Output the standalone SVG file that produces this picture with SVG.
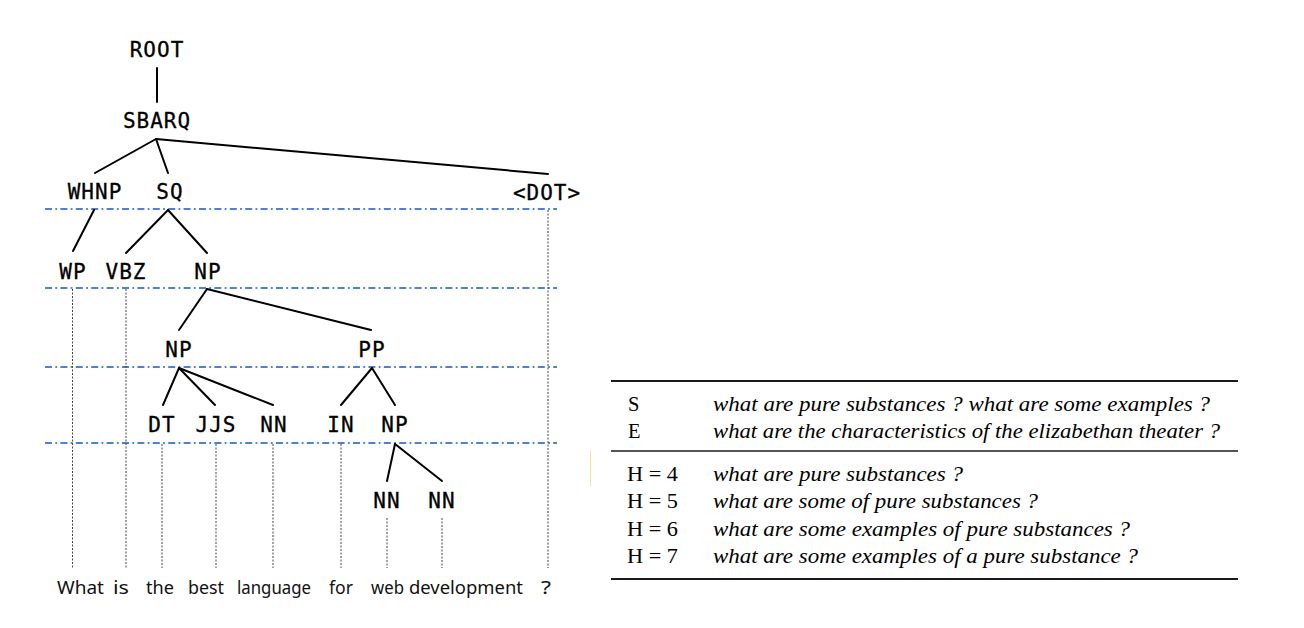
<svg xmlns="http://www.w3.org/2000/svg" width="1304" height="628" viewBox="0 0 1304 628">
<style>
.lbl{font-family:"DejaVu Sans Mono","Liberation Mono",monospace;font-size:21px;letter-spacing:1px;fill:#000;stroke:#000;stroke-width:0.3;text-anchor:middle}
.word{font-family:"Noto Sans","Open Sans","Liberation Sans",sans-serif;font-size:18.5px;font-weight:400;fill:#111}
.edge{stroke:#000;stroke-width:2;fill:none;stroke-linecap:round}
.lvl{stroke:#4f80d8;stroke-width:2.2;stroke-dasharray:7 3.3 1.8 3.3;fill:none}
.drop{stroke:#444;stroke-width:1;stroke-dasharray:2 1.5;fill:none}
.rule{stroke:#1a1a1a;fill:none}
.tk{font-family:"Liberation Serif","Times New Roman",serif;font-size:20.5px;fill:#000}
.it{font-family:"Liberation Serif","Times New Roman",serif;font-size:20.5px;font-style:italic;fill:#000}
</style>
<rect width="1304" height="628" fill="#fff"/>

<g id="levels">
<line class="lvl" x1="45" y1="209" x2="557" y2="209"/>
<line class="lvl" x1="45" y1="288" x2="557" y2="288"/>
<line class="lvl" x1="45" y1="367" x2="557" y2="367"/>
<line class="lvl" x1="45" y1="443" x2="557" y2="443"/>
</g>

<g id="connectors">
<line class="edge" x1="157" y1="68" x2="157" y2="102"/>
<line class="edge" x1="156" y1="139" x2="95" y2="173"/>
<line class="edge" x1="156" y1="139" x2="168" y2="173"/>
<line class="edge" x1="156" y1="139" x2="548" y2="174"/>
<line class="edge" x1="94" y1="210" x2="73" y2="251"/>
<line class="edge" x1="168" y1="210" x2="126" y2="253"/>
<line class="edge" x1="168" y1="210" x2="207" y2="253"/>
<line class="edge" x1="207" y1="289" x2="179" y2="330"/>
<line class="edge" x1="207" y1="289" x2="371" y2="330"/>
<line class="edge" x1="179" y1="368" x2="163" y2="405"/>
<line class="edge" x1="179" y1="368" x2="215" y2="405"/>
<line class="edge" x1="179" y1="368" x2="273" y2="405"/>
<line class="edge" x1="372" y1="368" x2="341" y2="405"/>
<line class="edge" x1="372" y1="368" x2="395" y2="405"/>
<line class="edge" x1="395" y1="444" x2="387" y2="481"/>
<line class="edge" x1="395" y1="444" x2="442" y2="481"/>
<line class="drop" x1="72.5" y1="289" x2="72.5" y2="568"/>
<line class="drop" x1="126" y1="289" x2="126" y2="568"/>
<line class="drop" x1="162" y1="444" x2="162" y2="568"/>
<line class="drop" x1="216" y1="444" x2="216" y2="568"/>
<line class="drop" x1="273" y1="444" x2="273" y2="568"/>
<line class="drop" x1="341" y1="444" x2="341" y2="568"/>
<line class="drop" x1="387" y1="518" x2="387" y2="568"/>
<line class="drop" x1="442" y1="518" x2="442" y2="568"/>
<line class="drop" x1="548" y1="210" x2="548" y2="568"/>
</g>

<g id="n-root"><text class="lbl" x="157" y="57">ROOT</text></g>
<g id="n-sbarq"><text class="lbl" x="157" y="128">SBARQ</text></g>
<g id="n-whnp"><text class="lbl" x="95" y="199">WHNP</text></g>
<g id="n-sq"><text class="lbl" x="170" y="199">SQ</text></g>
<g id="n-dot"><text class="lbl" x="547" y="200">&lt;DOT&gt;</text></g>
<g id="n-wp"><text class="lbl" x="73" y="279">WP</text></g>
<g id="n-vbz"><text class="lbl" x="126" y="279">VBZ</text></g>
<g id="n-np1"><text class="lbl" x="208" y="279">NP</text></g>
<g id="n-np2"><text class="lbl" x="179" y="357">NP</text></g>
<g id="n-pp"><text class="lbl" x="372" y="357">PP</text></g>
<g id="n-dt"><text class="lbl" x="162" y="432">DT</text></g>
<g id="n-jjs"><text class="lbl" x="216" y="432">JJS</text></g>
<g id="n-nn1"><text class="lbl" x="274" y="432">NN</text></g>
<g id="n-in"><text class="lbl" x="341" y="432">IN</text></g>
<g id="n-np3"><text class="lbl" x="395" y="432">NP</text></g>
<g id="n-nn2"><text class="lbl" x="387" y="508">NN</text></g>
<g id="n-nn3"><text class="lbl" x="442" y="508">NN</text></g>

<g id="words">
<text class="word" x="57" y="594" textLength="47" lengthAdjust="spacingAndGlyphs">What</text>
<text class="word" x="113" y="594" textLength="16" lengthAdjust="spacingAndGlyphs">is</text>
<text class="word" x="146" y="594" textLength="28" lengthAdjust="spacingAndGlyphs">the</text>
<text class="word" x="188" y="594" textLength="36" lengthAdjust="spacingAndGlyphs">best</text>
<text class="word" x="237" y="594" textLength="74" lengthAdjust="spacingAndGlyphs">language</text>
<text class="word" x="329" y="594" textLength="24" lengthAdjust="spacingAndGlyphs">for</text>
<text class="word" x="371" y="594" textLength="33" lengthAdjust="spacingAndGlyphs">web</text>
<text class="word" x="409" y="594" textLength="114" lengthAdjust="spacingAndGlyphs">development</text>
<text class="word" x="541" y="594" textLength="10" lengthAdjust="spacingAndGlyphs">?</text>
</g>

<line x1="590.5" y1="451" x2="590.5" y2="486" stroke="#f7e39a" stroke-width="1"/>

<g id="table">
<line class="rule" x1="611" y1="381" x2="1238" y2="381" stroke-width="2.2"/>
<line class="rule" x1="611" y1="451" x2="1238" y2="451" stroke-width="1.4"/>
<line class="rule" x1="611" y1="579" x2="1238" y2="579" stroke-width="2.2"/>
<text class="tk" x="628" y="411">S</text>
<text class="tk" x="628" y="438">E</text>
<text class="tk" x="627" y="481" textLength="51" lengthAdjust="spacingAndGlyphs">H = 4</text>
<text class="tk" x="627" y="508" textLength="51" lengthAdjust="spacingAndGlyphs">H = 5</text>
<text class="tk" x="627" y="536" textLength="51" lengthAdjust="spacingAndGlyphs">H = 6</text>
<text class="tk" x="627" y="563" textLength="51" lengthAdjust="spacingAndGlyphs">H = 7</text>
<text class="it" x="713" y="411" textLength="497" lengthAdjust="spacingAndGlyphs">what are pure substances ? what are some examples ?</text>
<text class="it" x="713" y="438" textLength="507" lengthAdjust="spacingAndGlyphs">what are the characteristics of the elizabethan theater ?</text>
<text class="it" x="713" y="481" textLength="250" lengthAdjust="spacingAndGlyphs">what are pure substances ?</text>
<text class="it" x="713" y="508" textLength="325" lengthAdjust="spacingAndGlyphs">what are some of pure substances ?</text>
<text class="it" x="713" y="536" textLength="417" lengthAdjust="spacingAndGlyphs">what are some examples of pure substances ?</text>
<text class="it" x="713" y="563" textLength="425" lengthAdjust="spacingAndGlyphs">what are some examples of a pure substance ?</text>
</g>
</svg>
